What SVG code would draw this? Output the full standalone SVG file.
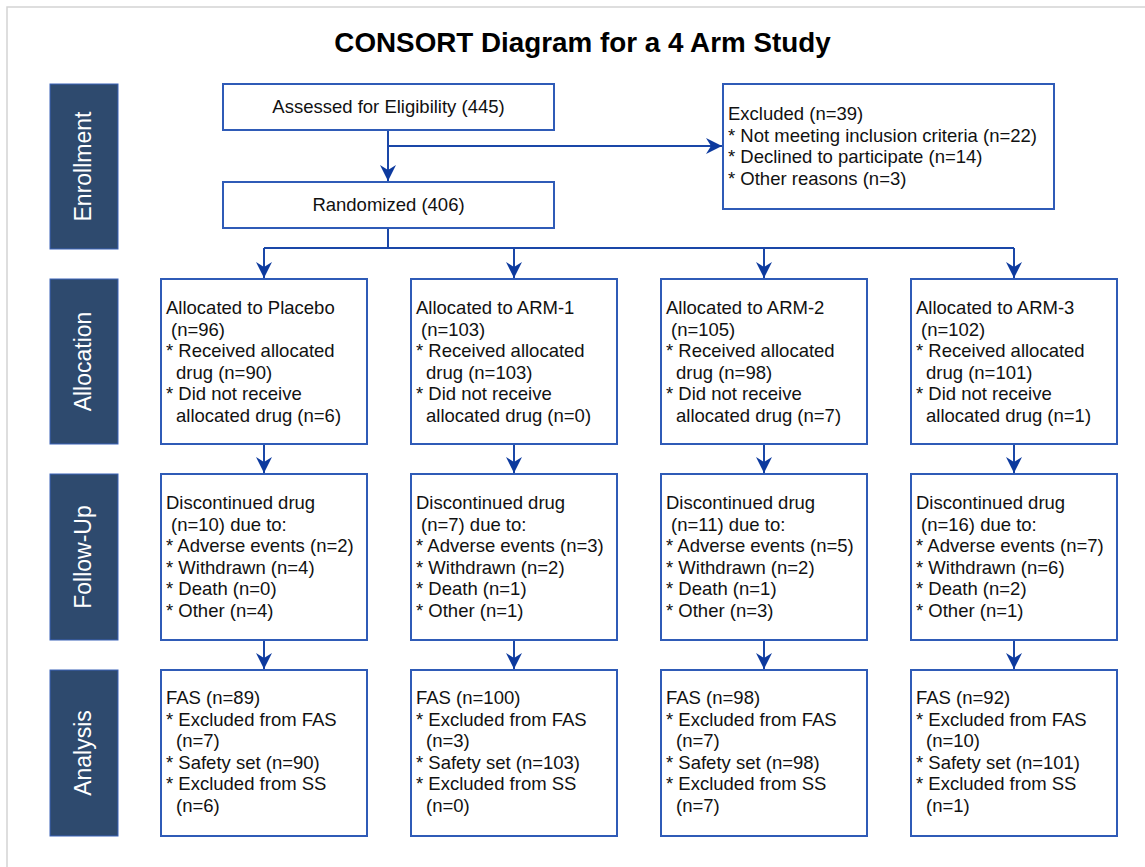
<svg xmlns="http://www.w3.org/2000/svg" width="1145" height="867" viewBox="0 0 1145 867">
<style>
.frame{fill:#fff;stroke:#d4d4d4;stroke-width:1.5}
.side{fill:#2e4a6e;stroke:#3a63b8;stroke-width:1}
.sidet{font-family:"Liberation Sans",Arial,sans-serif;font-size:23px;fill:#fff;text-anchor:middle}
.box{fill:#fff;stroke:#2f5bb7;stroke-width:2}
.t{font-family:"Liberation Sans",Arial,sans-serif;font-size:18.5px;fill:#111}
.c{text-anchor:middle}
.title{font-family:"Liberation Sans",Arial,sans-serif;font-size:27.8px;font-weight:bold;fill:#000;text-anchor:middle}
.conn{fill:none;stroke:#1a47a8;stroke-width:2}
</style>
<defs>
<marker id="ah" viewBox="0 0 16 16" refX="16" refY="8" markerWidth="16" markerHeight="16" markerUnits="userSpaceOnUse" orient="auto">
<path d="M0,0 L16,8 L0,16 L5,8 Z" fill="#0d3a9e"/>
</marker>
</defs>
<rect class="frame" x="7" y="7" width="1160" height="880"/>
<text class="title" x="582.5" y="52">CONSORT Diagram for a 4 Arm Study</text>

<g id="side-enrollment"><rect class="side" x="50" y="84" width="68" height="165"/><text class="sidet" transform="translate(91,166.5) rotate(-90)">Enrollment</text></g>
<g id="side-allocation"><rect class="side" x="50" y="279" width="68" height="165"/><text class="sidet" transform="translate(91,361.5) rotate(-90)">Allocation</text></g>
<g id="side-followup"><rect class="side" x="50" y="474" width="68" height="166"/><text class="sidet" transform="translate(91,557) rotate(-90)">Follow-Up</text></g>
<g id="side-analysis"><rect class="side" x="50" y="670" width="68" height="166"/><text class="sidet" transform="translate(91,753) rotate(-90)">Analysis</text></g>

<g id="connectors">
<path class="conn" d="M388,130 V181" marker-end="url(#ah)"/>
<path class="conn" d="M388,146 H722" marker-end="url(#ah)"/>
<path class="conn" d="M388,228 V248 M264,248 H1014"/>
<path class="conn" d="M264,248 V278" marker-end="url(#ah)"/>
<path class="conn" d="M514,248 V278" marker-end="url(#ah)"/>
<path class="conn" d="M764,248 V278" marker-end="url(#ah)"/>
<path class="conn" d="M1014,248 V278" marker-end="url(#ah)"/>
<path class="conn" d="M264,444 V473" marker-end="url(#ah)"/>
<path class="conn" d="M514,444 V473" marker-end="url(#ah)"/>
<path class="conn" d="M764,444 V473" marker-end="url(#ah)"/>
<path class="conn" d="M1014,444 V473" marker-end="url(#ah)"/>
<path class="conn" d="M264,640 V669" marker-end="url(#ah)"/>
<path class="conn" d="M514,640 V669" marker-end="url(#ah)"/>
<path class="conn" d="M764,640 V669" marker-end="url(#ah)"/>
<path class="conn" d="M1014,640 V669" marker-end="url(#ah)"/>
</g>

<g id="assessed"><rect class="box" x="223" y="84" width="331" height="46"/><text class="t c" x="388.5" y="113">Assessed for Eligibility (445)</text></g>
<g id="randomized"><rect class="box" x="223" y="182" width="331" height="46"/><text class="t c" x="388.5" y="211">Randomized (406)</text></g>
<g id="excluded"><rect class="box" x="723" y="84" width="331" height="125"/>
<text class="t"><tspan x="728" y="120">Excluded (n=39)</tspan><tspan x="728" y="141.5">* Not meeting inclusion criteria (n=22)</tspan><tspan x="728" y="163">* Declined to participate (n=14)</tspan><tspan x="728" y="184.5">* Other reasons (n=3)</tspan></text></g>

<g id="alloc-placebo"><rect class="box" x="161" y="279" width="206" height="165"/>
<text class="t"><tspan x="166" y="314">Allocated to Placebo</tspan><tspan x="171" y="335.5">(n=96)</tspan><tspan x="166" y="357">* Received allocated</tspan><tspan x="176" y="378.5">drug (n=90)</tspan><tspan x="166" y="400">* Did not receive</tspan><tspan x="176" y="421.5">allocated drug (n=6)</tspan></text></g>
<g id="alloc-arm1"><rect class="box" x="411" y="279" width="206" height="165"/>
<text class="t"><tspan x="416" y="314">Allocated to ARM-1</tspan><tspan x="421" y="335.5">(n=103)</tspan><tspan x="416" y="357">* Received allocated</tspan><tspan x="426" y="378.5">drug (n=103)</tspan><tspan x="416" y="400">* Did not receive</tspan><tspan x="426" y="421.5">allocated drug (n=0)</tspan></text></g>
<g id="alloc-arm2"><rect class="box" x="661" y="279" width="206" height="165"/>
<text class="t"><tspan x="666" y="314">Allocated to ARM-2</tspan><tspan x="671" y="335.5">(n=105)</tspan><tspan x="666" y="357">* Received allocated</tspan><tspan x="676" y="378.5">drug (n=98)</tspan><tspan x="666" y="400">* Did not receive</tspan><tspan x="676" y="421.5">allocated drug (n=7)</tspan></text></g>
<g id="alloc-arm3"><rect class="box" x="911" y="279" width="206" height="165"/>
<text class="t"><tspan x="916" y="314">Allocated to ARM-3</tspan><tspan x="921" y="335.5">(n=102)</tspan><tspan x="916" y="357">* Received allocated</tspan><tspan x="926" y="378.5">drug (n=101)</tspan><tspan x="916" y="400">* Did not receive</tspan><tspan x="926" y="421.5">allocated drug (n=1)</tspan></text></g>

<g id="fu-placebo"><rect class="box" x="161" y="474" width="206" height="166"/>
<text class="t"><tspan x="166" y="509">Discontinued drug</tspan><tspan x="171" y="530.5">(n=10) due to:</tspan><tspan x="166" y="552">* Adverse events (n=2)</tspan><tspan x="166" y="573.5">* Withdrawn (n=4)</tspan><tspan x="166" y="595">* Death (n=0)</tspan><tspan x="166" y="616.5">* Other (n=4)</tspan></text></g>
<g id="fu-arm1"><rect class="box" x="411" y="474" width="206" height="166"/>
<text class="t"><tspan x="416" y="509">Discontinued drug</tspan><tspan x="421" y="530.5">(n=7) due to:</tspan><tspan x="416" y="552">* Adverse events (n=3)</tspan><tspan x="416" y="573.5">* Withdrawn (n=2)</tspan><tspan x="416" y="595">* Death (n=1)</tspan><tspan x="416" y="616.5">* Other (n=1)</tspan></text></g>
<g id="fu-arm2"><rect class="box" x="661" y="474" width="206" height="166"/>
<text class="t"><tspan x="666" y="509">Discontinued drug</tspan><tspan x="671" y="530.5">(n=11) due to:</tspan><tspan x="666" y="552">* Adverse events (n=5)</tspan><tspan x="666" y="573.5">* Withdrawn (n=2)</tspan><tspan x="666" y="595">* Death (n=1)</tspan><tspan x="666" y="616.5">* Other (n=3)</tspan></text></g>
<g id="fu-arm3"><rect class="box" x="911" y="474" width="206" height="166"/>
<text class="t"><tspan x="916" y="509">Discontinued drug</tspan><tspan x="921" y="530.5">(n=16) due to:</tspan><tspan x="916" y="552">* Adverse events (n=7)</tspan><tspan x="916" y="573.5">* Withdrawn (n=6)</tspan><tspan x="916" y="595">* Death (n=2)</tspan><tspan x="916" y="616.5">* Other (n=1)</tspan></text></g>

<g id="an-placebo"><rect class="box" x="161" y="670" width="206" height="166"/>
<text class="t"><tspan x="166" y="704">FAS (n=89)</tspan><tspan x="166" y="725.5">* Excluded from FAS</tspan><tspan x="176" y="747">(n=7)</tspan><tspan x="166" y="768.5">* Safety set (n=90)</tspan><tspan x="166" y="790">* Excluded from SS</tspan><tspan x="176" y="811.5">(n=6)</tspan></text></g>
<g id="an-arm1"><rect class="box" x="411" y="670" width="206" height="166"/>
<text class="t"><tspan x="416" y="704">FAS (n=100)</tspan><tspan x="416" y="725.5">* Excluded from FAS</tspan><tspan x="426" y="747">(n=3)</tspan><tspan x="416" y="768.5">* Safety set (n=103)</tspan><tspan x="416" y="790">* Excluded from SS</tspan><tspan x="426" y="811.5">(n=0)</tspan></text></g>
<g id="an-arm2"><rect class="box" x="661" y="670" width="206" height="166"/>
<text class="t"><tspan x="666" y="704">FAS (n=98)</tspan><tspan x="666" y="725.5">* Excluded from FAS</tspan><tspan x="676" y="747">(n=7)</tspan><tspan x="666" y="768.5">* Safety set (n=98)</tspan><tspan x="666" y="790">* Excluded from SS</tspan><tspan x="676" y="811.5">(n=7)</tspan></text></g>
<g id="an-arm3"><rect class="box" x="911" y="670" width="206" height="166"/>
<text class="t"><tspan x="916" y="704">FAS (n=92)</tspan><tspan x="916" y="725.5">* Excluded from FAS</tspan><tspan x="926" y="747">(n=10)</tspan><tspan x="916" y="768.5">* Safety set (n=101)</tspan><tspan x="916" y="790">* Excluded from SS</tspan><tspan x="926" y="811.5">(n=1)</tspan></text></g>
</svg>
